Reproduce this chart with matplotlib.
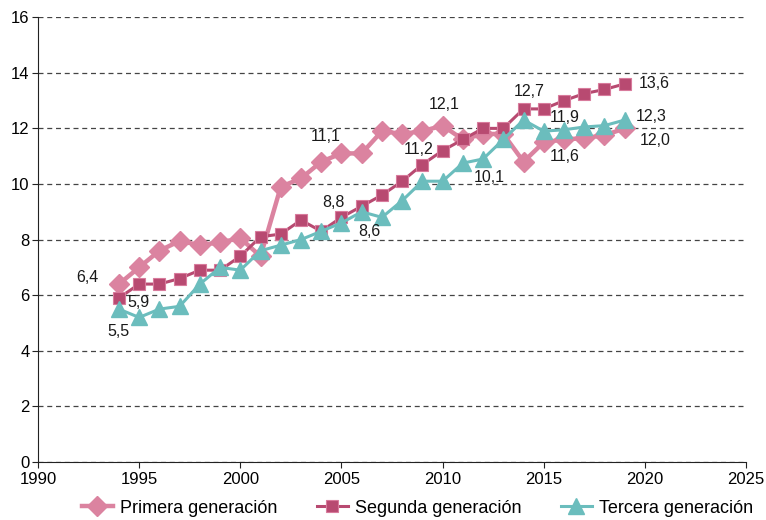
import matplotlib
matplotlib.use("Agg")
import matplotlib.pyplot as plt

plt.rcParams['font.family'] = ['Liberation Sans', 'DejaVu Sans']
plt.rcParams['font.size'] = 12

# data
years = list(range(1994, 2020))
primera = [6.4, 7.0, 7.6, 7.95, 7.8, 7.9, 8.05, 7.4, 9.9, 10.2, 10.8, 11.1, 11.1,
           11.9, 11.8, 11.9, 12.1, 11.6, 11.8, 11.8, 10.8, 11.5, 11.6, 11.65, 11.75, 12.0]
segunda = [5.9, 6.4, 6.4, 6.6, 6.9, 6.9, 7.4, 8.1, 8.2, 8.7, 8.3, 8.8, 9.2,
           9.6, 10.1, 10.7, 11.2, 11.6, 12.0, 12.0, 12.7, 12.7, 13.0, 13.25, 13.4, 13.6]
tercera = [5.5, 5.2, 5.5, 5.6, 6.4, 7.0, 6.9, 7.6, 7.8, 8.0, 8.3, 8.6, 9.0,
           8.8, 9.4, 10.1, 10.1, 10.75, 10.9, 11.6, 12.3, 11.9, 11.95, 12.05, 12.1, 12.3]
names = ['Primera generación', 'Segunda generación', 'Tercera generación']

# value labels: (series, year, text, dx px, dy px)
labels = [
    (0, 1994, '6,4', -32, 7), (1, 1994, '5,9', 20, -5), (2, 1994, '5,5', 0, -22),
    (0, 2005, '11,1', -16, 17), (1, 2005, '8,8', -8, 15), (2, 2005, '8,6', 28, -9),
    (0, 2010, '12,1', 2, 21), (1, 2010, '11,2', -24, 1), (2, 2010, '10,1', 47, 4),
    (1, 2014, '12,7', 6, 17), (2, 2015, '11,9', 21, 14), (0, 2016, '11,6', 1, -17),
    (1, 2019, '13,6', 30, 0), (2, 2019, '12,3', 26, 4), (0, 2019, '12,0', 30, -12),
]

c_pri = '#db83a0'
c_seg = '#b84a71'
c_ter = '#6bbdbd'

fig = plt.figure(figsize=(7.66, 5.2), dpi=100)
ax = fig.add_axes([0.0496, 0.1115, 0.9244, 0.8555])

l1, = ax.plot(years, primera, color=c_pri, lw=3.2, marker='D', ms=10.5,
              mec=c_pri, mfc=c_pri, label=names[0], zorder=3)
l2, = ax.plot(years, segunda, color=c_seg, lw=2.2, marker='s', ms=9,
              mec='#d87b9c', mew=0.8, mfc=c_seg, label=names[1], zorder=4)
l3, = ax.plot(years, tercera, color=c_ter, lw=2.2, marker='^', ms=11,
              mec=c_ter, mfc=c_ter, label=names[2], zorder=5)

series = [primera, segunda, tercera]
for s, yr, txt, dx, dy in labels:
    v = series[s][years.index(yr)]
    ax.annotate(txt, (yr, v), xytext=(dx, dy), textcoords='offset pixels',
                ha='center', va='center', fontsize=11.5, color='#1a1a1a', zorder=6)

ax.set_xlim(1990, 2025)
ax.set_ylim(0, 16)
ax.set_xticks(range(1990, 2026, 5))
ax.set_yticks(range(0, 17, 2))
ax.yaxis.grid(True, linestyle=(0, (4, 3)), color='#444444', lw=0.9)
ax.set_axisbelow(True)
for sp in ['top', 'right']:
    ax.spines[sp].set_visible(False)
ax.spines['left'].set_color('#222222')
ax.spines['bottom'].set_color('#222222')
ax.tick_params(axis='both', length=4, color='#222222', labelsize=12, pad=2)
ax.tick_params(axis='x', pad=3)

fig.legend(handles=[l1, l2, l3], loc='lower center', bbox_to_anchor=(0.545, -0.025),
           ncol=3, frameon=False, fontsize=13, handlelength=1.7, columnspacing=2.2,
           handletextpad=0.4)

fig.savefig('out.png', dpi=100)
